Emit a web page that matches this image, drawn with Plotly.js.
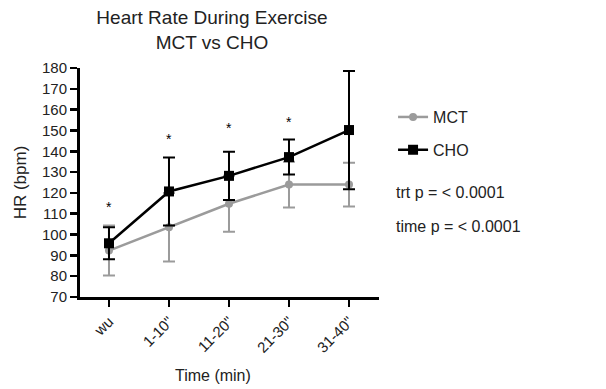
<!DOCTYPE html>
<html>
<head>
<meta charset="utf-8">
<script src="https://cdn.plot.ly/plotly-3.0.1.min.js"></script>
<style>html,body{margin:0;padding:0;background:#fff;}#chart{width:606px;height:389px;}</style>
</head>
<body>
<div id="chart"></div>
<script>
const categories = ['wu', '1-10"', '11-20"', '21-30"', '31-40"'];
const mctMean = [92.3, 103.5, 114.8, 124.0, 124.0];
const mctErr = [12.0, 16.5, 13.5, 11.0, 10.5];
const choMean = [95.8, 120.7, 128.2, 137.2, 150.2];
const choErr = [7.7, 16.3, 11.6, 8.4, 28.4];
const starY = [114.5, 147.2, 152.5, 155.3, 190.6];
const statLines = ['trt p = < 0.0001', 'time p = < 0.0001'];

const FONT = 'Liberation Sans, Arial, Helvetica, sans-serif';
const gray = '#9b9b9b';

const traces = [
  {
    x: categories, y: mctMean, name: 'MCT', type: 'scatter', mode: 'lines+markers', legendgroup: 'a',
    line: {color: gray, width: 2.5},
    marker: {color: gray, size: 8, symbol: 'circle'},
    error_y: {type: 'data', array: mctErr, visible: true, color: gray, thickness: 2, width: 6}
  },
  {
    x: categories, y: choMean, name: 'CHO', type: 'scatter', mode: 'lines+markers', legendgroup: 'b',
    line: {color: '#000', width: 2.5},
    marker: {color: '#000', size: 10, symbol: 'square'},
    error_y: {type: 'data', array: choErr, visible: true, color: '#000', thickness: 2, width: 6}
  }
];

const annotations = categories.map((c, i) => ({
  x: c, y: starY[i], xref: 'x', yref: 'y', text: '*', showarrow: false,
  font: {family: FONT, size: 14, color: '#000'}, yanchor: 'middle', yshift: -3
}));
statLines.forEach((t, i) => annotations.push({
  x: 1.05, xref: 'paper', y: i === 0 ? 0.458 : 0.31, yref: 'paper', text: t, showarrow: false,
  xanchor: 'left', yanchor: 'middle', font: {family: FONT, size: 16, color: '#222'}
}));
annotations.push({
  x: (213 - 80) / 299, xref: 'paper', y: -(375 - 297) / 229, yref: 'paper', text: 'Time (min)', showarrow: false,
  xanchor: 'center', yanchor: 'middle', font: {family: FONT, size: 16, color: '#222'}
});

const layout = {
  width: 606, height: 389,
  margin: {l: 80, r: 227, t: 68, b: 92},
  paper_bgcolor: '#fff', plot_bgcolor: '#fff',
  font: {family: FONT, color: '#222', size: 15},
  title: {
    text: 'Heart Rate During Exercise<br>MCT vs CHO',
    x: 212 / 606, xanchor: 'center', xref: 'container',
    y: 1 - 24 / 389, yanchor: 'top', yref: 'container',
    font: {family: FONT, size: 19, color: '#222'}
  },
  showlegend: true,
  legend: {
    x: 1.047, y: 0.86, xanchor: 'left', yanchor: 'top',
    font: {family: FONT, size: 16, color: '#222'},
    bgcolor: 'rgba(0,0,0,0)', tracegroupgap: 9, itemwidth: 30
  },
  xaxis: {
    type: 'category', range: [-0.483, 4.5],
    showline: true, linecolor: '#000', linewidth: 3,
    ticks: 'outside', ticklen: 7, tickwidth: 2.5, tickcolor: '#000',
    tickangle: -45, showgrid: false, zeroline: false,
    tickfont: {family: FONT, size: 15, color: '#222'}
  },
  yaxis: {
    range: [70, 180], dtick: 10, tick0: 70,
    showline: true, linecolor: '#000', linewidth: 3,
    ticks: 'outside', ticklen: 7, tickwidth: 2.5, tickcolor: '#000',
    showgrid: false, zeroline: false,
    tickfont: {family: FONT, size: 15, color: '#222'},
    title: {text: 'HR (bpm)', font: {family: FONT, size: 17, color: '#222'}, standoff: 12}
  },
  annotations: annotations
};

Plotly.newPlot('chart', traces, layout, {displayModeBar: false, staticPlot: true});
</script>
</body>
</html>
